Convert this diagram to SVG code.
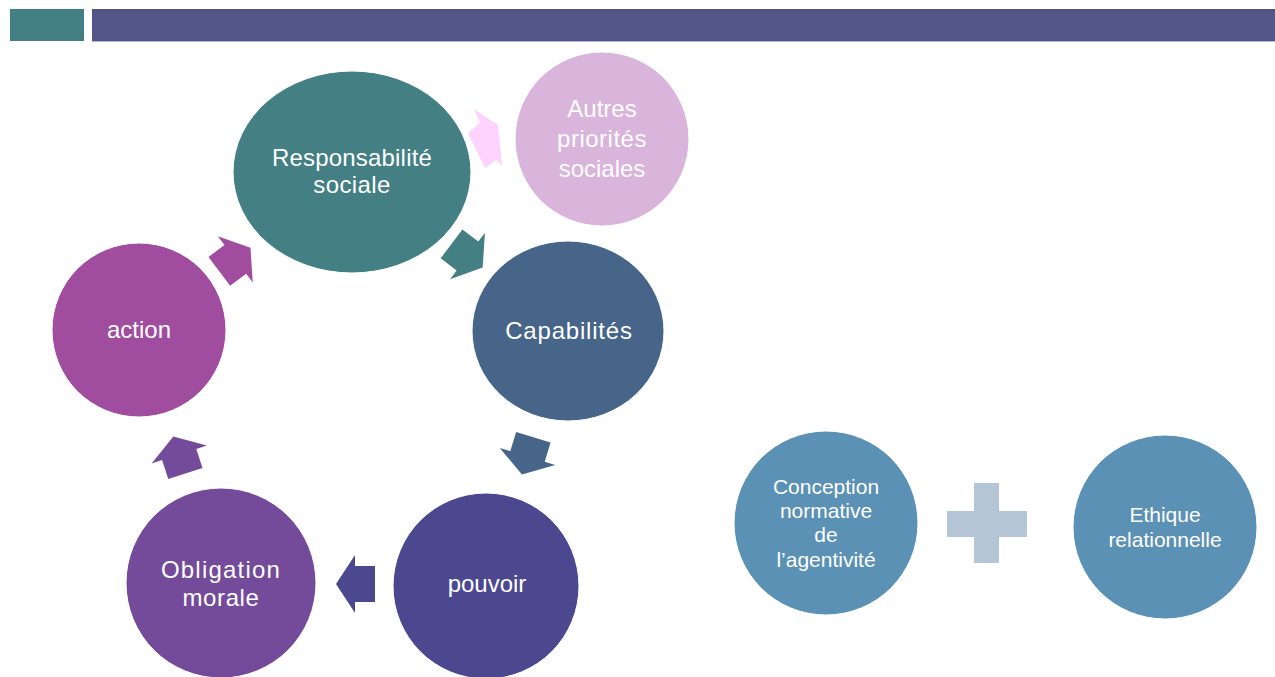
<svg xmlns="http://www.w3.org/2000/svg" width="1275" height="677" viewBox="0 0 1275 677">
<style>
text{font-family:"Liberation Sans",Arial,sans-serif;fill:#ffffff;text-anchor:middle}
.big{font-size:24px}
.small{font-size:21px}
.node{stroke:#ffffff;stroke-width:1}
</style>
<defs>
<path id="arr" d="M-20,-18 L0,-18 L0,-29 L19,0 L0,29 L0,18 L-20,18 Z"/>
</defs>
<rect width="1275" height="677" fill="#ffffff"/>
<g id="header">
<rect x="10" y="9" width="74" height="32" fill="#438084"/>
<rect x="92" y="9" width="1183" height="32" fill="#535488"/>
<line x1="92" y1="41.5" x2="1275" y2="41.5" stroke="#b4b4d2" stroke-width="1"/>
</g>
<g id="connectors">
<polygon points="474,109 498,125 502,166 496,160 485,168 468,133 480,123" fill="#fdd3fd"/>
<use href="#arr" transform="translate(467.5,256) rotate(37)" fill="#437f83"/>
<use href="#arr" transform="translate(527.5,456.4) rotate(107)" fill="#466589"/>
<use href="#arr" transform="translate(355,584) rotate(180)" fill="#4b4890"/>
<use href="#arr" transform="translate(179.2,454.5) rotate(-108)" fill="#744b9a"/>
<use href="#arr" transform="translate(235.3,259.3) rotate(-37)" fill="#a04d9f"/>
</g>
<g id="n-resp">
<ellipse class="node" cx="352" cy="172" rx="119" ry="101" fill="#437f83"/>
<text class="big" x="352" y="166" letter-spacing="0.2">Responsabilité</text>
<text class="big" x="352" y="193" letter-spacing="0.4">sociale</text>
</g>
<g id="n-autres">
<circle class="node" cx="602" cy="139" r="87" fill="#d9b4db"/>
<text class="big" x="602" y="117">Autres</text>
<text class="big" x="602" y="147" letter-spacing="0.5">priorités</text>
<text class="big" x="602" y="177">sociales</text>
</g>
<g id="n-capa">
<ellipse class="node" cx="568" cy="331" rx="96" ry="90" fill="#466589"/>
<text class="big" x="569" y="339" letter-spacing="0.8">Capabilités</text>
</g>
<g id="n-pouvoir">
<circle class="node" cx="486" cy="586" r="93" fill="#4b4890"/>
<text class="big" x="487" y="592">pouvoir</text>
</g>
<g id="n-oblig">
<circle class="node" cx="221" cy="583" r="95" fill="#744b9a"/>
<text class="big" x="221" y="578" letter-spacing="1.2">Obligation</text>
<text class="big" x="221" y="606" letter-spacing="0.6">morale</text>
</g>
<g id="n-action">
<circle class="node" cx="139" cy="330" r="87" fill="#a04d9f"/>
<text class="big" x="139" y="338">action</text>
</g>
<g id="n-conception">
<circle class="node" cx="826" cy="523" r="92" fill="#5b91b5"/>
<text class="small" x="826" y="494">Conception</text>
<text class="small" x="826" y="518">normative</text>
<text class="small" x="826" y="542">de</text>
<text class="small" x="826" y="567">l’agentivité</text>
</g>
<g id="n-plus">
<path d="M974,483 H999 V511 H1027 V537 H999 V563 H974 V537 H947 V511 H974 Z" fill="#b4c6d6"/>
</g>
<g id="n-ethique">
<circle class="node" cx="1165" cy="527" r="92" fill="#5b91b5"/>
<text class="small" x="1165" y="522">Ethique</text>
<text class="small" x="1165" y="547">relationnelle</text>
</g>
</svg>
